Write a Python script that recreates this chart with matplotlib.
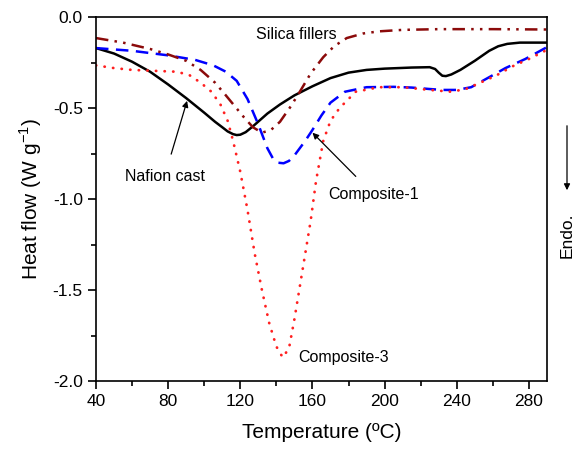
import numpy as np
import matplotlib
matplotlib.use("Agg")
import matplotlib.pyplot as plt
from matplotlib.ticker import MultipleLocator

plt.rcParams['font.family'] = ['Liberation Sans', 'DejaVu Sans']

# Nafion cast (black solid)
t_naf = [40, 50, 60, 70, 80, 90, 100, 106, 110, 113, 116, 118, 120, 123, 127, 131,
         135, 142, 150, 160, 170, 180, 190, 200, 215, 225, 228, 230, 232, 234, 237,
         242, 250, 258, 263, 268, 275, 290]
q_naf = [-0.17, -0.20, -0.245, -0.30, -0.37, -0.445, -0.525, -0.575, -0.605, -0.628,
         -0.643, -0.648, -0.646, -0.632, -0.60, -0.565, -0.53, -0.48, -0.43, -0.38,
         -0.335, -0.305, -0.29, -0.283, -0.277, -0.275, -0.285, -0.305, -0.322,
         -0.324, -0.315, -0.29, -0.24, -0.185, -0.16, -0.147, -0.14, -0.14]

# Composite-1 (blue dashed)
t_c1 = [40, 60, 80, 95, 105, 112, 118, 124, 130, 135, 138, 141, 144, 147, 150, 156,
        160, 165, 170, 178, 190, 205, 215, 225, 232, 240, 248, 258, 267, 278, 290]
q_c1 = [-0.17, -0.185, -0.21, -0.235, -0.265, -0.30, -0.35, -0.45, -0.59, -0.72,
        -0.775, -0.80, -0.803, -0.79, -0.76, -0.68, -0.62, -0.54, -0.47, -0.41,
        -0.385, -0.383, -0.387, -0.395, -0.40, -0.40, -0.385, -0.33, -0.28, -0.23,
        -0.165]

# Composite-3 (red dotted)
t_c3 = [40, 50, 60, 72, 85, 92, 98, 104, 109, 113, 116, 120, 124, 128, 132, 136,
        140, 143.5, 147, 150, 153, 156, 159, 162, 166, 170, 175, 184, 197, 210, 225,
        237, 245, 252, 262, 271, 280, 290]
q_c3 = [-0.265, -0.28, -0.29, -0.295, -0.30, -0.32, -0.36, -0.41, -0.48, -0.57,
        -0.68, -0.85, -1.06, -1.30, -1.50, -1.68, -1.81, -1.87, -1.82, -1.66,
        -1.48, -1.30, -1.12, -0.90, -0.68, -0.57, -0.50, -0.41, -0.385, -0.385,
        -0.40, -0.41, -0.395, -0.365, -0.32, -0.27, -0.23, -0.18]

# Silica fillers (dark red dash-dot-dot)
t_si = [40, 55, 70, 80, 90, 98, 106, 112, 117, 122, 127, 132, 137, 142, 148, 153,
        159, 166, 172, 179, 188, 197, 210, 230, 260, 290]
q_si = [-0.115, -0.14, -0.175, -0.205, -0.24, -0.29, -0.36, -0.43, -0.49, -0.55,
        -0.605, -0.635, -0.62, -0.575, -0.49, -0.41, -0.31, -0.22, -0.16, -0.115,
        -0.09, -0.078, -0.07, -0.066, -0.066, -0.068]

fig = plt.figure(figsize=(5.8, 4.51), dpi=100)
ax = fig.add_axes([0.1655, 0.155, 0.7775, 0.807])

ax.plot(t_naf, q_naf, color='black', lw=1.8, ls='-', solid_joinstyle='round')
ax.plot(t_c1, q_c1, color='#0000ff', lw=1.8, ls=(0, (5, 3)))
ax.plot(t_c3, q_c3, color='#ff2020', lw=2.0, ls=(0, (0.1, 3.0)), dash_capstyle='round')
ax.plot(t_si, q_si, color='#8b0a0a', lw=1.8, ls=(0, (5, 2.5, 1, 2.5, 1, 2.5)))

ax.set_xlim(40, 290)
ax.set_ylim(-2.0, 0.0)
ax.xaxis.set_major_locator(MultipleLocator(40))
ax.xaxis.set_minor_locator(MultipleLocator(20))
ax.yaxis.set_major_locator(MultipleLocator(0.5))
ax.yaxis.set_minor_locator(MultipleLocator(0.25))
ax.tick_params(which='both', direction='out', top=False, right=False, labelsize=12.5, width=1.2)
ax.tick_params(which='major', length=6)
ax.tick_params(which='minor', length=3.5)
ax.yaxis.set_major_formatter(plt.FuncFormatter(lambda v, p: '%.1f' % v))
for s in ax.spines.values():
    s.set_linewidth(1.2)

ax.set_xlabel('Temperature (ºC)', fontsize=15, labelpad=10)
ax.set_ylabel(r'Heat flow (W g$^{\mathdefault{-1}}$)', fontsize=15, labelpad=6)

ax.text(151, -0.095, 'Silica fillers', fontsize=11.5, ha='center', va='center')
ax.annotate('Nafion cast', xy=(90.5, -0.46), xytext=(78, -0.875), fontsize=11.5,
            ha='center', va='center',
            arrowprops=dict(arrowstyle='-|>', color='black', lw=0.9, shrinkA=9, shrinkB=0,
                            mutation_scale=9))
ax.annotate('Composite-1', xy=(160, -0.635), xytext=(194, -0.975), fontsize=11.5,
            ha='center', va='center',
            arrowprops=dict(arrowstyle='-|>', color='black', lw=0.9, shrinkA=8, shrinkB=0,
                            mutation_scale=9))
ax.text(177, -1.87, 'Composite-3', fontsize=11.5, ha='center', va='center')

# Endo. marker outside the right axis
fig.patches.append(matplotlib.patches.FancyArrowPatch(
    (567 / 580, 1 - 123 / 451), (567 / 580, 1 - 193 / 451), transform=fig.transFigure,
    arrowstyle='-|>', mutation_scale=9, color='black', lw=0.9))
fig.text(567 / 580, 1 - 235 / 451, 'Endo.', rotation=90, fontsize=12.5, ha='center', va='center')

fig.savefig('out.png', dpi=100)
